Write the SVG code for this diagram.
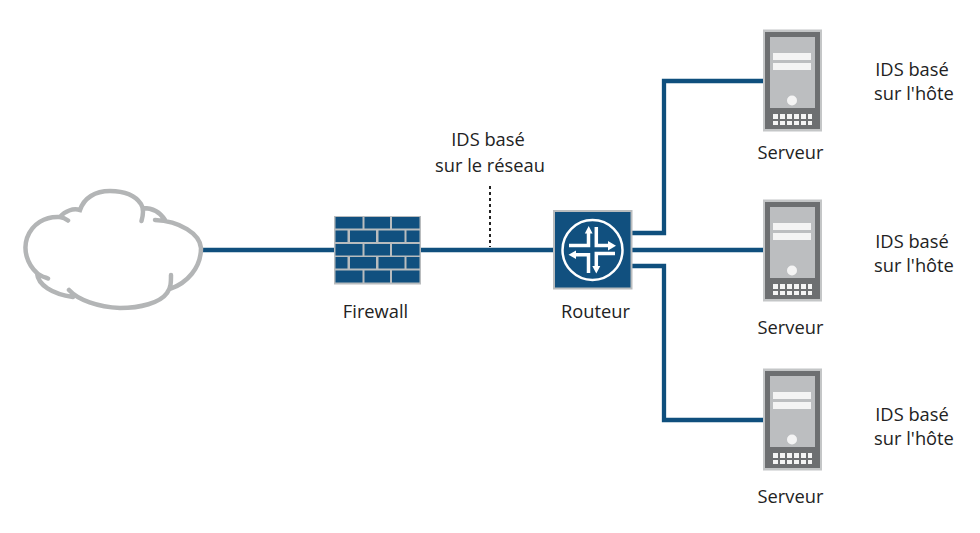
<svg xmlns="http://www.w3.org/2000/svg" width="980" height="533" viewBox="0 0 980 533">
<defs>
<style>
text{font-family:"Open Sans","Noto Sans","Liberation Sans",sans-serif;font-size:18.300px;fill:#222;text-anchor:middle}
.w{fill:none;stroke:#0f4f7d;stroke-width:4.300}
.c{fill:none;stroke:#b3b5b6;stroke-width:4.500;stroke-linecap:round}
.b{fill:#11507f}
.ar{fill:none;stroke:#fff;stroke-width:3.500}
.ah{fill:#fff}
</style>
<g id="srv">
<rect x="763" y="29.500" width="59" height="102" fill="#c4c6c7"/>
<rect x="765" y="32" width="55" height="97" fill="#6d6f71"/>
<rect x="770" y="37" width="45" height="71" fill="#bcbec0"/>
<rect x="773" y="53" width="38" height="7" fill="#f4f4f4"/>
<rect x="773" y="63" width="38" height="7" fill="#f4f4f4"/>
<circle cx="792" cy="100.500" r="5" fill="#f4f4f4"/>
<g fill="#f4f4f4">
<rect x="773" y="114" width="5" height="5"/><rect x="780" y="114" width="5" height="5"/><rect x="787" y="114" width="5" height="5"/><rect x="794" y="114" width="5" height="5"/><rect x="801" y="114" width="5" height="5"/><rect x="808" y="114" width="4" height="5"/>
<rect x="773" y="121" width="5" height="4"/><rect x="780" y="121" width="5" height="4"/><rect x="787" y="121" width="5" height="4"/><rect x="794" y="121" width="5" height="4"/><rect x="801" y="121" width="5" height="4"/><rect x="808" y="121" width="4" height="4"/>
</g>
</g>
</defs>
<rect width="980" height="533" fill="#fff"/>
<g id="connectors">
<path class="w" d="M202 250H334M420 250H554M631 233H664V81H763M631 250H763M631 266H664V420H763"/>
<path d="M490 186V247" fill="none" stroke="#222" stroke-width="2" stroke-dasharray="3 3"/>
</g>
<g id="cloud">
<path class="c" d="M68 220.500C66 219 63 217.500 60 217C45 216 32 224 27 238C23 250 27 264 37 273C40 276 44 277 48 278.500M37 273C38 285 52 294 73 297M69 290C78 300 98 307 120 308C140 308 160 303 167 293C171 288 171 282 171 275M170 289C187 283 201 268 201 248C200 234 180 221 155 220M165 220C160 212 152 208 143 208M141.500 221C144 212 143 207 141 204C135 195 123 191 110 191C95 191 84 198 80 210C73 208 65 211 60 217"/>
</g>
<g id="firewall">
<rect x="334" y="216" width="87" height="68.500" fill="#b9bcbe"/>
<g class="b">
<rect x="335.500" y="217" width="27" height="11.500"/><rect x="364.500" y="217" width="25.500" height="11.500"/><rect x="392" y="217" width="27.500" height="11.500"/>
<rect x="335.500" y="230.500" width="12" height="11.500"/><rect x="350" y="230.500" width="26" height="11.500"/><rect x="378.500" y="230.500" width="26" height="11.500"/><rect x="406.500" y="230.500" width="13" height="11.500"/>
<rect x="335.500" y="244" width="27" height="11.500"/><rect x="364.500" y="244" width="25.500" height="11.500"/><rect x="392" y="244" width="27.500" height="11.500"/>
<rect x="335.500" y="257" width="12" height="11.500"/><rect x="350" y="257" width="26" height="11.500"/><rect x="378.500" y="257" width="26" height="11.500"/><rect x="406.500" y="257" width="13" height="11.500"/>
<rect x="335.500" y="270.500" width="27" height="12"/><rect x="364.500" y="270.500" width="25.500" height="12"/><rect x="392" y="270.500" width="27.500" height="12"/>
</g>
<text x="375.500" y="318">Firewall</text>
</g>
<g id="router">
<rect x="554" y="211" width="77.500" height="77.500" class="b" stroke="#b9bcbe" stroke-width="2"/>
<circle cx="592.500" cy="250" r="30" fill="none" stroke="#fff" stroke-width="2.500"/>
<path class="ar" d="M588.500 232V245.500H569M596.300 227V245.500H609M588.500 273V254.800H575M596.300 267V253.500H615"/>
<path class="ah" d="M588.700 226 584.800 233.500H592.600ZM596.300 273.500 592.300 266H600.300ZM616 245.700 608 241V250.500ZM568.500 254.800 576 250.500V259Z"/>
<text x="595.500" y="318">Routeur</text>
</g>
<g id="ids-reseau"><text x="488" y="146">IDS basé</text><text x="490" y="172">sur le réseau</text></g>
<g id="server1"><use href="#srv"/><text x="790.500" y="159">Serveur</text></g>
<g id="server2"><use href="#srv" y="170"/><text x="790.500" y="334">Serveur</text></g>
<g id="server3"><use href="#srv" y="339"/><text x="790.500" y="503">Serveur</text></g>
<g id="ids1"><text x="912" y="76">IDS basé</text><text x="914" y="100">sur l'hôte</text></g>
<g id="ids2"><text x="912" y="248">IDS basé</text><text x="914" y="272">sur l'hôte</text></g>
<g id="ids3"><text x="912" y="421">IDS basé</text><text x="914" y="445">sur l'hôte</text></g>
</svg>
